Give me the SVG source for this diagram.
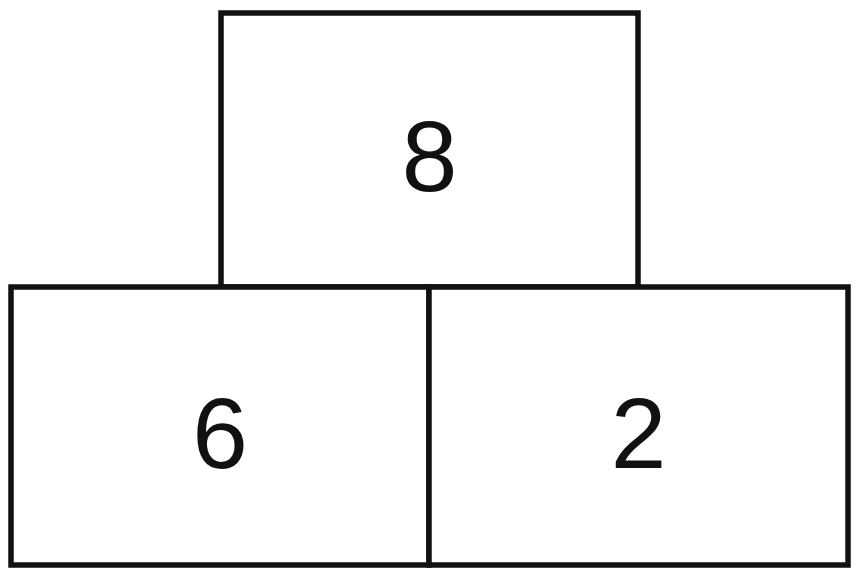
<svg xmlns="http://www.w3.org/2000/svg" width="860" height="581" viewBox="0 0 860 581">
<style>
.box{fill:#fff;stroke:#111;stroke-width:5.5}
.lbl{font-family:"Liberation Sans",Arial,sans-serif;font-size:100px;fill:#111;text-anchor:middle}
</style>
<rect width="860" height="581" fill="#fff"/>
<g id="node-top">
<rect class="box" x="221" y="13" width="417" height="274"/>
<text class="lbl" x="429.5" y="191">8</text>
</g>
<g id="node-left">
<rect class="box" x="11" y="287" width="418" height="278"/>
<text class="lbl" x="220" y="468">6</text>
</g>
<g id="node-right">
<rect class="box" x="429" y="287" width="419" height="278"/>
<text class="lbl" x="638.5" y="468">2</text>
</g>
<g id="connectors"></g>
</svg>
